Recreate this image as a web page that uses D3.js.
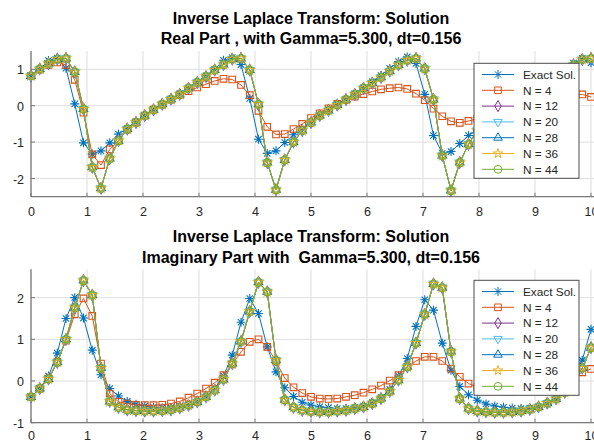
<!DOCTYPE html>
<html>
<head>
<meta charset="utf-8">
<script src="https://cdn.jsdelivr.net/npm/d3@7"></script>
<style>
  body { margin: 0; background: #fff; overflow: hidden; }
  svg { display: block; font-family: "Liberation Sans", Arial, sans-serif; }
  text { white-space: pre; }
</style>
</head>
<body>
<svg id="chart" width="594" height="442"></svg>
<script>
// Sampling step of the inversion (t = 0 .. 10)
const dt = 0.15625;
const nSamples = 65;
const time = d3.range(nSamples).map(i => i * dt);

const xTicks = [0, 1, 2, 3, 4, 5, 6, 7, 8, 9, 10];
const reTicks = [-2, -1, 0, 1];
const imTicks = [-1, 0, 1, 2];

const seriesNames = ["Exact Sol.", "N = 4", "N = 12", "N = 20", "N = 28", "N = 36", "N = 44"];

// Real part
const exactRe = [
  0.82, 1.00, 1.24, 1.31, 1.03, 0.05, -1.02, -1.33, -1.24, -1.02,
  -0.78, -0.62, -0.45, -0.28, -0.12, 0.03, 0.18, 0.33, 0.49, 0.65,
  0.82, 1.00, 1.25, 1.32, 1.13, 0.20, -0.92, -1.31, -1.24, -1.01,
  -0.80, -0.64, -0.46, -0.28, -0.12, 0.03, 0.18, 0.33, 0.49, 0.66,
  0.83, 1.02, 1.21, 1.34, 1.16, 0.31, -0.82, -1.31, -1.26, -1.04,
  -0.82, -0.66, -0.48, -0.30, -0.13, 0.02, 0.17, 0.32, 0.48, 0.64,
  0.82, 1.00, 1.17, 1.30, 1.18
];
const n4Re = [
  0.82, 0.99, 1.12, 1.19, 1.12, 0.71, -0.19, -1.34, -1.63, -1.20,
  -0.97, -0.66, -0.46, -0.27, -0.11, 0.03, 0.17, 0.29, 0.40, 0.50,
  0.59, 0.68, 0.74, 0.72, 0.57, 0.29, -0.14, -0.58, -0.79, -0.78,
  -0.64, -0.50, -0.34, -0.21, -0.07, 0.05, 0.16, 0.25, 0.32, 0.39,
  0.45, 0.48, 0.50, 0.46, 0.33, 0.15, -0.08, -0.29, -0.43, -0.47,
  -0.42, -0.36, -0.26, -0.16, -0.07, 0.02, 0.09, 0.15, 0.20, 0.24,
  0.27, 0.29, 0.31, 0.31, 0.24
];
// N = 12 ... 44 converge to the same curve at plotting resolution
const nHighRe = [
  0.82, 1.01, 1.16, 1.28, 1.30, 0.93, -0.09, -1.69, -2.27, -1.45,
  -0.96, -0.64, -0.46, -0.27, -0.11, 0.04, 0.18, 0.31, 0.48, 0.64,
  0.80, 0.98, 1.13, 1.28, 1.30, 0.98, 0.04, -1.56, -2.31, -1.49,
  -1.00, -0.68, -0.46, -0.27, -0.13, 0.02, 0.17, 0.31, 0.48, 0.62,
  0.78, 0.95, 1.12, 1.25, 1.30, 1.02, 0.17, -1.37, -2.33, -1.56,
  -1.06, -0.68, -0.47, -0.28, -0.12, 0.03, 0.17, 0.31, 0.47, 0.62,
  0.78, 0.95, 1.12, 1.27, 1.30
];

// Imaginary part
const exactIm = [
  -0.38, -0.18, 0.12, 0.67, 1.50, 2.00, 1.51, 0.74, 0.15, -0.18,
  -0.36, -0.49, -0.56, -0.60, -0.63, -0.64, -0.64, -0.61, -0.57, -0.50,
  -0.38, -0.18, 0.12, 0.62, 1.41, 1.98, 1.62, 0.82, 0.22, -0.16,
  -0.37, -0.51, -0.58, -0.62, -0.64, -0.66, -0.66, -0.64, -0.60, -0.52,
  -0.40, -0.20, 0.12, 0.54, 1.31, 1.95, 1.70, 0.91, 0.26, -0.13,
  -0.33, -0.46, -0.55, -0.60, -0.63, -0.65, -0.66, -0.65, -0.62, -0.56,
  -0.44, -0.24, 0.10, 0.50, 1.24
];
const n4Im = [
  -0.38, -0.18, 0.06, 0.46, 0.97, 1.60, 1.98, 1.56, 0.42, -0.30,
  -0.50, -0.54, -0.57, -0.58, -0.58, -0.57, -0.54, -0.49, -0.40, -0.30,
  -0.18, -0.04, 0.14, 0.40, 0.70, 0.94, 1.00, 0.82, 0.47, 0.07,
  -0.15, -0.29, -0.38, -0.42, -0.43, -0.42, -0.38, -0.34, -0.28, -0.20,
  -0.11, 0.01, 0.14, 0.34, 0.48, 0.58, 0.58, 0.48, 0.30, 0.10,
  -0.06, -0.15, -0.20, -0.23, -0.25, -0.25, -0.24, -0.21, -0.17, -0.12,
  -0.05, 0.03, 0.12, 0.21, 0.29
];
const nHighIm = [
  -0.38, -0.18, 0.05, 0.45, 1.00, 1.76, 2.41, 2.06, 0.31, -0.49,
  -0.63, -0.69, -0.71, -0.72, -0.72, -0.71, -0.69, -0.64, -0.58, -0.50,
  -0.38, -0.22, 0.04, 0.42, 0.95, 1.67, 2.37, 2.14, 0.50, -0.45,
  -0.63, -0.70, -0.73, -0.74, -0.74, -0.72, -0.70, -0.66, -0.62, -0.54,
  -0.42, -0.25, 0.02, 0.34, 0.91, 1.60, 2.33, 2.24, 0.71, -0.42,
  -0.66, -0.72, -0.74, -0.75, -0.75, -0.74, -0.72, -0.68, -0.62, -0.53,
  -0.43, -0.27, 0.00, 0.31, 0.80
];

const reValues = [exactRe, n4Re, nHighRe, nHighRe, nHighRe, nHighRe, nHighRe];
const imValues = [exactIm, n4Im, nHighIm, nHighIm, nHighIm, nHighIm, nHighIm];

const styles = [
  { color: "#0072BD", marker: "asterisk" },
  { color: "#D95319", marker: "square" },
  { color: "#7E2F8E", marker: "diamond" },
  { color: "#4DBEEE", marker: "triangleDown" },
  { color: "#0072BD", marker: "triangleUp" },
  { color: "#EDB120", marker: "pentagram" },
  { color: "#77AC30", marker: "circle" }
];

function markerPath(kind) {
  switch (kind) {
    case "asterisk": {
      const r = 4.5, a = r * 0.707;
      return `M${-r},0L${r},0M0,${-r}L0,${r}M${-a},${-a}L${a},${a}M${-a},${a}L${a},${-a}`;
    }
    case "square": return d3.symbol(d3.symbolSquare, 44)();
    case "diamond": return d3.symbol(d3.symbolDiamond, 36)();
    case "triangleUp": return d3.symbol(d3.symbolTriangle, 32)();
    case "triangleDown": return d3.symbol(d3.symbolTriangle, 32)();
    case "pentagram": return d3.symbol(d3.symbolStar, 28)();
    case "circle": return d3.symbol(d3.symbolCircle, 48)();
  }
}
function markerTransform(kind, x, y) {
  return `translate(${x},${y})` + (kind === "triangleDown" ? " rotate(180)" : "");
}

const svg = d3.select("#chart");
svg.append("rect").attr("width", 594).attr("height", 442).attr("fill", "#fff");

const x = d3.scaleLinear().domain([0, 10]).range([31, 591]);

function drawPanel(p) {
  const y = d3.scaleLinear().domain(p.yDomain).range(p.yRange);
  const g = svg.append("g");
  const top = p.yRange[1], bottom = p.yRange[0];

  // grid
  g.append("g").selectAll("line").data(xTicks).join("line")
    .attr("x1", d => x(d)).attr("x2", d => x(d))
    .attr("y1", top).attr("y2", bottom)
    .attr("stroke", "#dedede").attr("stroke-width", 1);
  g.append("g").selectAll("line").data(p.yTicks).join("line")
    .attr("x1", x(0)).attr("x2", 600)
    .attr("y1", d => y(d)).attr("y2", d => y(d))
    .attr("stroke", "#dedede").attr("stroke-width", 1);

  // axes (inward ticks, no box)
  const xAxis = d3.axisBottom(x).tickValues(xTicks).tickSize(0).tickPadding(0).tickFormat(d3.format("d"));
  const xa = g.append("g").attr("transform", `translate(0,${bottom})`).call(xAxis);
  xa.select(".domain").remove();
  xa.selectAll("text").attr("y", p.xLabelY - bottom).attr("dy", 0)
    .attr("font-size", 12.5).attr("fill", "#262626").attr("font-family", null);
  const yAxis = d3.axisLeft(y).tickValues(p.yTicks).tickSize(0).tickPadding(0).tickFormat(d3.format("d"));
  const ya = g.append("g").attr("transform", `translate(${x(0)},0)`).call(yAxis);
  ya.select(".domain").remove();
  ya.selectAll("text").attr("x", -7).attr("dy", "0.36em")
    .attr("font-size", 12.5).attr("fill", "#262626").attr("font-family", null)
    .text(d => d < 0 ? "-" + Math.abs(d) : d);

  g.append("line").attr("x1", x(0)).attr("x2", 600).attr("y1", bottom).attr("y2", bottom)
    .attr("stroke", "#7a7a7a").attr("stroke-width", 1.3);
  g.append("line").attr("x1", x(0)).attr("x2", x(0)).attr("y1", top).attr("y2", bottom)
    .attr("stroke", "#7a7a7a").attr("stroke-width", 1.3);
  g.append("g").selectAll("line").data(xTicks).join("line")
    .attr("x1", d => x(d)).attr("x2", d => x(d)).attr("y1", bottom).attr("y2", bottom - 4)
    .attr("stroke", "#7a7a7a").attr("stroke-width", 1);
  g.append("g").selectAll("line").data(p.yTicks).join("line")
    .attr("x1", x(0)).attr("x2", x(0) + 4).attr("y1", d => y(d)).attr("y2", d => y(d))
    .attr("stroke", "#7a7a7a").attr("stroke-width", 1);

  // titles
  const tg = g.append("g").attr("font-weight", "bold").attr("font-size", 16)
    .attr("fill", "#000").attr("text-anchor", "middle");
  p.titles.forEach((t, k) => tg.append("text").attr("x", 311).attr("y", p.titleY[k]).text(t));

  // series
  const line = d3.line().x((d, i) => x(time[i])).y(d => y(d));
  p.values.forEach((vals, s) => {
    const st = styles[s];
    const sg = g.append("g");
    sg.append("path").attr("d", line(vals)).attr("fill", "none")
      .attr("stroke", st.color).attr("stroke-width", 1);
    sg.selectAll("path.m").data(vals).join("path").attr("class", "m")
      .attr("d", markerPath(st.marker))
      .attr("transform", (d, i) => markerTransform(st.marker, x(time[i]), y(d)))
      .attr("fill", "none").attr("stroke", st.color).attr("stroke-width", 1.1);
  });

  // legend
  const lg = g.append("g").attr("transform", `translate(474,${p.legendTop})`);
  lg.append("rect").attr("x", 0).attr("y", 0).attr("width", 105).attr("height", 115)
    .attr("fill", "#fff").attr("stroke", "#4d4d4d").attr("stroke-width", 1);
  seriesNames.forEach((name, s) => {
    const st = styles[s];
    const ry = 11.2 + s * 15.8;
    lg.append("line").attr("x1", 8).attr("x2", 40).attr("y1", ry).attr("y2", ry)
      .attr("stroke", st.color).attr("stroke-width", 1);
    lg.append("path").attr("d", markerPath(st.marker))
      .attr("transform", markerTransform(st.marker, 24, ry))
      .attr("fill", "none").attr("stroke", st.color).attr("stroke-width", 1);
    lg.append("text").attr("x", 49).attr("y", ry).attr("dy", "0.36em")
      .attr("font-size", 11.8).attr("fill", "#262626").text(name);
  });
}

drawPanel({
  yDomain: [-2.5, 1.5], yRange: [196.7, 51.1], yTicks: reTicks,
  values: reValues, xLabelY: 216,
  titles: ["Inverse Laplace Transform: Solution", "Real Part , with Gamma=5.300, dt=0.156"],
  titleY: [24.3, 44.3], legendTop: 63.3
});
drawPanel({
  yDomain: [-1, 2.68], yRange: [422.7, 269.3], yTicks: imTicks,
  values: imValues, xLabelY: 439.8,
  titles: ["Inverse Laplace Transform: Solution", "Imaginary Part with  Gamma=5.300, dt=0.156"],
  titleY: [242, 262.5], legendTop: 280.3
});
</script>
</body>
</html>
